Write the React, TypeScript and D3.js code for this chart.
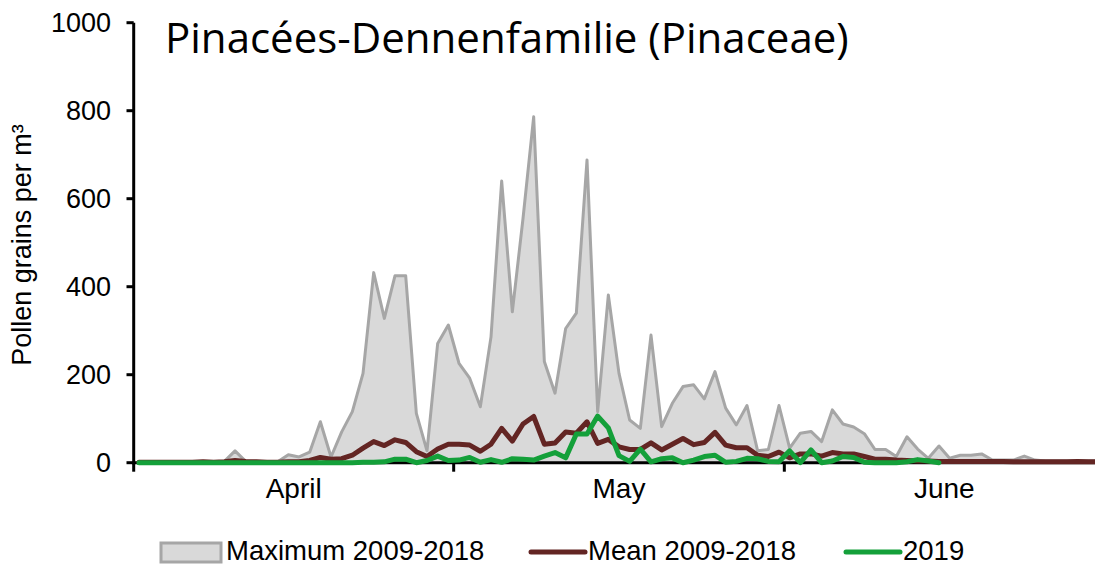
import React from 'react';
import * as d3 from 'd3';

// Daily categories: index 0 = 1 April ... index 90 = 30 June
const dayIndex: number[] = d3.range(91);

const maxValues: number[] = [
  0, 0, 0, 1, 1, 1, 3, 1, 3, 27,
  3, 2, 1, 2, 18, 13, 24, 93, 13, 70,
  116, 203, 432, 328, 425, 425, 112, 27, 271, 313,
  226, 192, 127, 286, 640, 343, 555, 786, 230, 158,
  305, 340, 688, 116, 381, 203, 97, 78, 290, 82,
  135, 173, 177, 145, 207, 124, 86, 130, 27, 30,
  130, 33, 67, 71, 48, 120, 88, 81, 66, 30,
  30, 14, 59, 31, 10, 38, 10, 17, 17, 20,
  6, 6, 6, 15, 6, 4, 4, 4, 4, 4, 4,
];

const meanValues: number[] = [
  1, 1, 1, 1, 1, 1, 2, 1, 2, 5,
  3, 2, 1, 1, 2, 2, 5, 12, 8, 9,
  17, 33, 48, 39, 52, 46, 25, 14, 31, 42,
  42, 40, 26, 42, 78, 49, 88, 105, 42, 45,
  70, 67, 93, 44, 53, 36, 30, 30, 45, 29,
  42, 55, 41, 46, 69, 40, 34, 34, 17, 14,
  24, 11, 20, 20, 15, 23, 20, 20, 14, 8,
  8, 6, 5, 4, 4, 3, 3, 3, 3, 3,
  3, 3, 2, 2, 2, 2, 2, 2, 3, 2, 2,
];

const values2019: number[] = [
  0, 0, 0, 0, 0, 0, 0, 0, 0, 0,
  0, 0, 0, 0, 0, 0, 0, 0, 0, 0,
  0, 1, 1, 2, 8, 8, 0, 5, 15, 5,
  6, 12, 1, 7, 1, 9, 8, 6, 15, 23,
  11, 65, 65, 106, 79, 16, 3, 31, 2, 9,
  11, 0, 6, 14, 17, 1, 3, 10, 9, 3,
  2, 27, 0, 29, 0, 4, 14, 12, 1, 0,
  0, 0, 2, 7, 4, 0,
];

const monthLabels: string[] = ['April', 'May', 'June'];
const monthFirstIndex: number[] = [0, 30, 61];
const monthLastIndex: number[] = [29, 60, 90];
const yTicks: number[] = [0, 200, 400, 600, 800, 1000];

const seriesNames: string[] = ['Maximum 2009-2018', 'Mean 2009-2018', '2019'];
const titleText = 'Pinacées-Dennenfamilie (Pinaceae)';
const yTitle = 'Pollen grains per m³';

const W = 1095;
const H = 566;
const AX = '"Liberation Sans", Arial, sans-serif';

export default function App() {
  const x = d3.scaleLinear().domain([-0.5, 90.5]).range([133.7, 1104.3]);
  const y = d3.scaleLinear().domain([0, 1000]).range([462.7, 22.7]);

  const area = d3
    .area<number>()
    .x((_, i) => x(dayIndex[i]))
    .y0(y(0))
    .y1((d) => y(d));
  const line = d3
    .line<number>()
    .x((_, i) => x(dayIndex[i]))
    .y((d) => y(d));

  const axisX = x(-0.5);
  const tickXs = [x(-0.5), x(29.5), x(60.5)];

  return (
    <svg
      width={W}
      height={H}
      style={{ position: 'absolute', left: 0, top: 0, background: '#fff' }}
    >
      <rect x={0} y={0} width={W} height={H} fill="#fff" />
      {/* series area */}
      <path d={area(maxValues) || ''} fill="#d9d9d9" stroke="none" />
      <path
        d={line(maxValues) || ''}
        fill="none"
        stroke="#a6a6a6"
        strokeWidth={3}
        strokeLinejoin="round"
      />
      {/* axes */}
      <line x1={axisX} x2={axisX} y1={y(1000)} y2={y(0) + 1.5} stroke="#000" strokeWidth={3} />
      {yTicks.map((t) => (
        <g key={t}>
          <line x1={126.5} x2={axisX} y1={y(t)} y2={y(t)} stroke="#000" strokeWidth={3} />
          <text
            x={111}
            y={y(t) + 9.5}
            textAnchor="end"
            fontFamily={AX}
            fontSize={27}
            fill="#000"
          >
            {t}
          </text>
        </g>
      ))}
      <line x1={axisX - 1.5} x2={W} y1={y(0)} y2={y(0)} stroke="#000" strokeWidth={3} />
      {tickXs.map((tx, i) => (
        <line key={i} x1={tx} x2={tx} y1={y(0)} y2={y(0) + 9} stroke="#000" strokeWidth={3} />
      ))}
      {monthLabels.map((m, i) => (
        <text
          key={m}
          x={x((monthFirstIndex[i] + monthLastIndex[i]) / 2)}
          y={498}
          textAnchor="middle"
          fontFamily={AX}
          fontSize={28}
          fill="#000"
        >
          {m}
        </text>
      ))}
      {/* lines */}
      <path
        d={line(meanValues) || ''}
        fill="none"
        stroke="#632523"
        strokeWidth={5}
        strokeLinejoin="round"
        strokeLinecap="round"
      />
      <path
        d={line(values2019) || ''}
        fill="none"
        stroke="#14a03a"
        strokeWidth={5}
        strokeLinejoin="round"
        strokeLinecap="round"
      />
      {/* titles */}
      <text
        x={165}
        y={53}
        fontFamily='"Open Sans", sans-serif'
        fontSize={42}
        fill="#000"
      >
        {titleText}
      </text>
      <text
        transform="translate(31,245) rotate(-90)"
        textAnchor="middle"
        fontFamily={AX}
        fontSize={27}
        fill="#000"
      >
        {yTitle}
      </text>
      {/* legend */}
      <rect x={161} y={543} width={60} height={19} fill="#d9d9d9" stroke="#a6a6a6" strokeWidth={3} />
      <text x={226} y={560} fontFamily={AX} fontSize={27.5} fill="#000">
        {seriesNames[0]}
      </text>
      <line x1={531} x2={585} y1={552} y2={552} stroke="#632523" strokeWidth={5} strokeLinecap="round" />
      <text x={588} y={560} fontFamily={AX} fontSize={27.5} fill="#000">
        {seriesNames[1]}
      </text>
      <line x1={846} x2={900} y1={552} y2={552} stroke="#14a03a" strokeWidth={5} strokeLinecap="round" />
      <text x={903} y={560} fontFamily={AX} fontSize={27.5} fill="#000">
        {seriesNames[2]}
      </text>
    </svg>
  );
}
